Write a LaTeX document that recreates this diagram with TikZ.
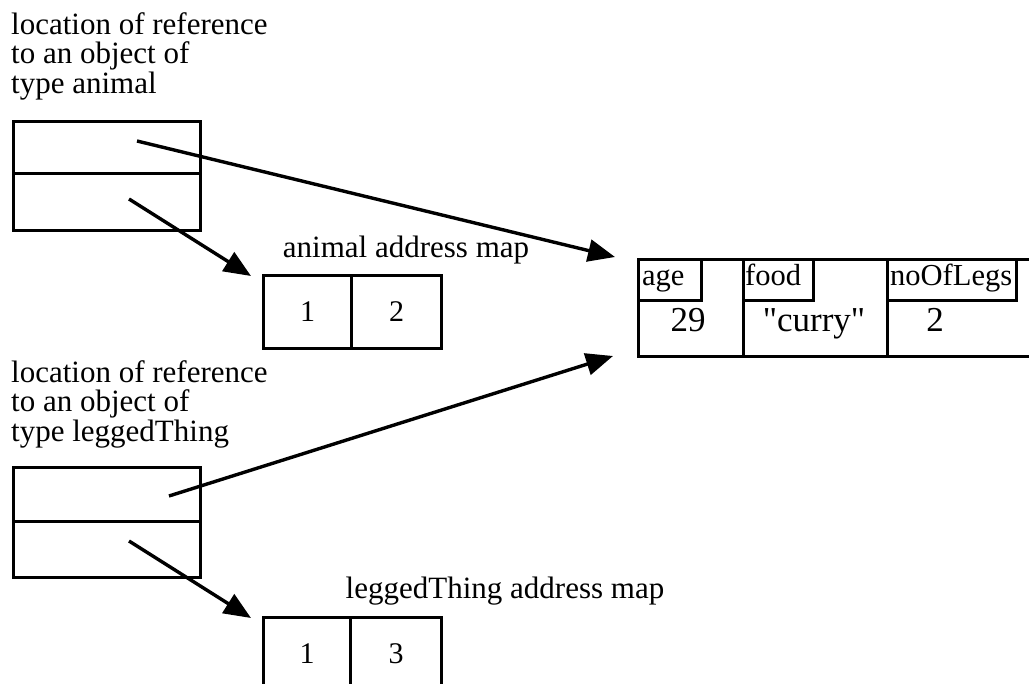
\documentclass[tikz,border=0pt]{standalone}
\usepackage{fontspec}
\setmainfont{Liberation Serif}
\usetikzlibrary{arrows.meta}
\begin{document}
\begin{tikzpicture}[x=1pt,y=-1pt,
  cell/.style={draw,line width=3pt,anchor=north west,inner sep=0pt,font=\fontsize{30}{30}\selectfont},
  lbl/.style={anchor=base west,inner sep=0pt,font=\fontsize{30.5}{30}\selectfont},
  val/.style={anchor=base,inner sep=0pt,font=\fontsize{35}{35}\selectfont},
  title/.style={anchor=base,inner sep=0pt,font=\fontsize{31}{31}\selectfont},
  para/.style={anchor=north west,inner sep=0pt,align=left,font=\fontsize{31}{29.5}\selectfont},
  ptr/.style={line width=3.4pt,-{Triangle[length=27pt,width=22pt]}}]
\useasboundingbox (0,0) rectangle (1029,684);

% ---- animal reference
\node[para] (txtA) at (11,12) {location of reference\\to an object of\\type animal};
\node[cell,minimum width=187,minimum height=52] (ar1) at (12,120) {};
\node[cell,minimum width=187,minimum height=57] (ar2) at (12,172) {};

% ---- animal address map
\node[title] (amT) at (406,258) {animal address map};
\node[cell,minimum width=88,minimum height=73] (am1) at (262,274) {1};
\node[cell,minimum width=90,minimum height=73] (am2) at (350,274) {2};

% ---- object
\node[cell,minimum width=105,minimum height=97] (oAge) at (637,258) {};
\node[cell,minimum width=144,minimum height=97] (oFood) at (742,258) {};
\node[cell,minimum width=160,minimum height=97] (oLegs) at (886,258) {};
\node[cell,minimum width=63,minimum height=41] (bAge) at (637,258) {};
\node[cell,minimum width=70,minimum height=41] (bFood) at (742,258) {};
\node[cell,minimum width=129,minimum height=41] (bLegs) at (886,258) {};
\node[lbl] (tAge) at (642,286) {age};
\node[lbl] (tFood) at (745,286) {food};
\node[lbl] (tLegs) at (890,286) {noOfLegs};
\node[val] (vAge) at (688,332) {29};
\node[val] (vFood) at (814,332) {\textquotedbl curry\textquotedbl};
\node[val] (vLegs) at (935,332) {2};

% ---- leggedThing reference
\node[para] (txtL) at (11,360) {location of reference\\to an object of\\type leggedThing};
\node[cell,minimum width=187,minimum height=54] (lr1) at (12,466) {};
\node[cell,minimum width=187,minimum height=56] (lr2) at (12,520) {};

% ---- leggedThing address map
\node[title] (lmT) at (505,598) {leggedThing address map};
\node[cell,minimum width=87,minimum height=73] (lm1) at (262,616) {1};
\node[cell,minimum width=91,minimum height=73] (lm2) at (349,616) {3};

% ---- pointers
\coordinate (s1) at (137,141);
\coordinate (t1) at (615,257);
\coordinate (s2) at (129,199);
\coordinate (t2) at (251,276);
\coordinate (s3) at (169,496);
\coordinate (t3) at (613,356);
\coordinate (s4) at (129,541);
\coordinate (t4) at (251,618);
\draw[ptr] (s1) -- (t1);
\draw[ptr] (s2) -- (t2);
\draw[ptr] (s3) -- (t3);
\draw[ptr] (s4) -- (t4);
\end{tikzpicture}
\end{document}
